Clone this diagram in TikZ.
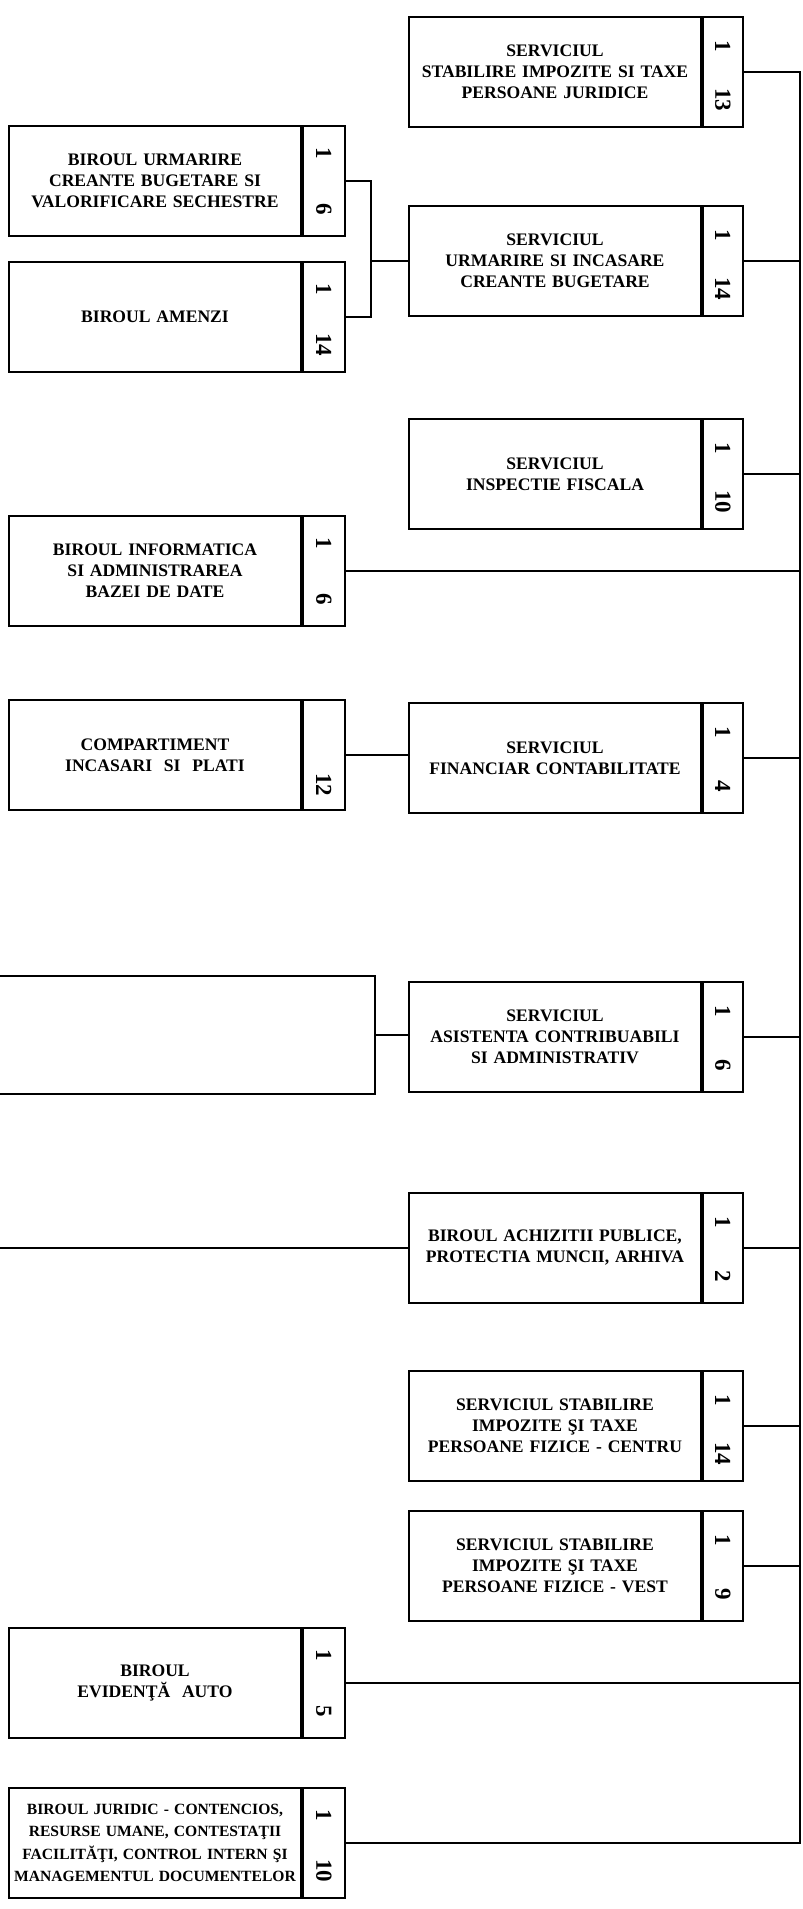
\documentclass[tikz,border=0pt]{standalone}
\usepackage{fontspec}
\setmainfont{Liberation Serif}

\begin{document}
\begin{tikzpicture}[x=1pt, y=-1pt,
    box/.style={draw, line width=1.8pt, minimum width=292pt, minimum height=110pt,
        text width=286pt, inner sep=0pt, align=center,
        font=\bfseries\fontsize{17.6}{21}\selectfont},
    nr/.style={draw, line width=1.8pt, minimum width=40pt, minimum height=110pt,
        inner sep=0pt, anchor=west},
    digit/.style={rotate=-90, inner sep=0pt, font=\bfseries\fontsize{23}{23}\selectfont},
    link/.style={line width=1.5pt}]
    \useasboundingbox (0,0) rectangle (803,1909);

    % right column
    \node[box] (pj) at (555,72) {SERVICIUL\\STABILIRE IMPOZITE SI TAXE\\PERSOANE JURIDICE};
    \node[nr] (pjn) at (pj.east) {};
    \node[digit] (pj1) at ([yshift=-30pt]pjn.north) {1};
    \node[digit] (pj2) at ([yshift=28pt]pjn.south) {13};

    \node[box] (uis) at (555,261) {SERVICIUL\\URMARIRE SI INCASARE\\CREANTE BUGETARE};
    \node[nr] (uisn) at (uis.east) {};
    \node[digit] (uis1) at ([yshift=-30pt]uisn.north) {1};
    \node[digit] (uis2) at ([yshift=28pt]uisn.south) {14};

    \node[box] (ins) at (555,474) {SERVICIUL\\INSPECTIE FISCALA};
    \node[nr] (insn) at (ins.east) {};
    \node[digit] (ins1) at ([yshift=-30pt]insn.north) {1};
    \node[digit] (ins2) at ([yshift=28pt]insn.south) {10};

    \node[box] (fin) at (555,758) {SERVICIUL\\FINANCIAR CONTABILITATE};
    \node[nr] (finn) at (fin.east) {};
    \node[digit] (fin1) at ([yshift=-30pt]finn.north) {1};
    \node[digit] (fin2) at ([yshift=28pt]finn.south) {4};

    \node[box] (asi) at (555,1037) {SERVICIUL\\ASISTENTA CONTRIBUABILI\\SI ADMINISTRATIV};
    \node[nr] (asin) at (asi.east) {};
    \node[digit] (asi1) at ([yshift=-30pt]asin.north) {1};
    \node[digit] (asi2) at ([yshift=28pt]asin.south) {6};

    \node[box] (ach) at (555,1248) {BIROUL ACHIZITII PUBLICE,\\PROTECTIA MUNCII, ARHIVA};
    \node[nr] (achn) at (ach.east) {};
    \node[digit] (ach1) at ([yshift=-30pt]achn.north) {1};
    \node[digit] (ach2) at ([yshift=28pt]achn.south) {2};

    \node[box] (cen) at (555,1426) {SERVICIUL STABILIRE\\IMPOZITE ŞI TAXE\\PERSOANE FIZICE - CENTRU};
    \node[nr] (cenn) at (cen.east) {};
    \node[digit] (cen1) at ([yshift=-30pt]cenn.north) {1};
    \node[digit] (cen2) at ([yshift=28pt]cenn.south) {14};

    \node[box] (vst) at (555,1566) {SERVICIUL STABILIRE\\IMPOZITE ŞI TAXE\\PERSOANE FIZICE - VEST};
    \node[nr] (vstn) at (vst.east) {};
    \node[digit] (vst1) at ([yshift=-30pt]vstn.north) {1};
    \node[digit] (vst2) at ([yshift=28pt]vstn.south) {9};

    % left column
    \node[box] (usv) at (155,181) {BIROUL URMARIRE\\CREANTE BUGETARE SI\\VALORIFICARE SECHESTRE};
    \node[nr, minimum width=42pt] (usvn) at (usv.east) {};
    \node[digit] (usv1) at ([yshift=-28pt]usvn.north) {1};
    \node[digit] (usv2) at ([yshift=28pt]usvn.south) {6};

    \node[box] (amz) at (155,317) {BIROUL AMENZI};
    \node[nr, minimum width=42pt] (amzn) at (amz.east) {};
    \node[digit] (amz1) at ([yshift=-28pt]amzn.north) {1};
    \node[digit] (amz2) at ([yshift=28pt]amzn.south) {14};

    \node[box] (inf) at (155,571) {BIROUL INFORMATICA\\SI ADMINISTRAREA\\BAZEI DE DATE};
    \node[nr, minimum width=42pt] (infn) at (inf.east) {};
    \node[digit] (inf1) at ([yshift=-28pt]infn.north) {1};
    \node[digit] (inf2) at ([yshift=28pt]infn.south) {6};

    \node[box] (cmp) at (155,755) {COMPARTIMENT\\INCASARI\ \ SI\ \ PLATI};
    \node[nr, minimum width=42pt] (cmpn) at (cmp.east) {};
    \node[digit] (cmp2) at ([yshift=26pt]cmpn.south) {12};

    \node[box] (evd) at (155,1683) {BIROUL\\EVIDENŢĂ\ \ AUTO};
    \node[nr, minimum width=42pt] (evdn) at (evd.east) {};
    \node[digit] (evd1) at ([yshift=-28pt]evdn.north) {1};
    \node[digit] (evd2) at ([yshift=28pt]evdn.south) {5};

    \node[box, font=\bfseries\fontsize{15.6}{22.5}\selectfont] (jur) at (155,1843)
        {BIROUL JURIDIC - CONTENCIOS,\\RESURSE UMANE, CONTESTAŢII\\FACILITĂŢI, CONTROL INTERN ŞI\\MANAGEMENTUL DOCUMENTELOR};
    \node[nr, minimum width=42pt] (jurn) at (jur.east) {};
    \node[digit] (jur1) at ([yshift=-28pt]jurn.north) {1};
    \node[digit] (jur2) at ([yshift=28pt]jurn.south) {10};

    % box cut by the left edge
    \node[draw, line width=1.8pt, minimum width=440pt, minimum height=118pt, anchor=east]
        (blank) at (376,1035) {};

    % connectors
    \coordinate (bus) at (800,0);
    \coordinate (jn) at (371,0);
    \coordinate (edge) at (-20,0);
    \draw[link] (pjn.east) -| (bus |- jurn.east) -- (jurn.east);
    \draw[link] (uisn.east) -- (uisn.east -| bus);
    \draw[link] (insn.east) -- (insn.east -| bus);
    \draw[link] (infn.east) -- (infn.east -| bus);
    \draw[link] (finn.east) -- (finn.east -| bus);
    \draw[link] (asin.east) -- (asin.east -| bus);
    \draw[link] (achn.east) -- (achn.east -| bus);
    \draw[link] (cenn.east) -- (cenn.east -| bus);
    \draw[link] (vstn.east) -- (vstn.east -| bus);
    \draw[link] (evdn.east) -- (evdn.east -| bus);
    \draw[link] (usvn.east) -| (jn |- uis.west) |- (amzn.east);
    \draw[link] (jn |- uis.west) -- (uis.west);
    \draw[link] (cmpn.east) -- (cmpn.east -| fin.west);
    \draw[link] (blank.east) -- (blank.east -| asi.west);
    \draw[link] (ach.west) -- (ach.west -| edge);
\end{tikzpicture}
\end{document}
